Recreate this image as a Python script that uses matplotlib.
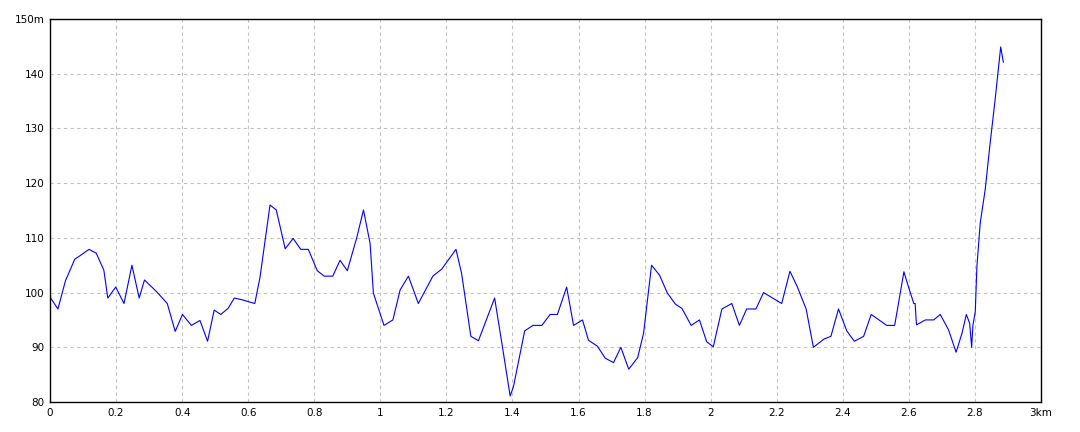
import matplotlib
matplotlib.use("Agg")
import matplotlib.pyplot as plt

# distance (km) and elevation (m)
dist_km = [0.0, 0.002, 0.024, 0.047, 0.075, 0.09, 0.118, 0.14, 0.163, 0.175,
           0.199, 0.224, 0.248, 0.27, 0.286, 0.322, 0.355, 0.379, 0.401, 0.428,
           0.454, 0.477, 0.497, 0.517, 0.539, 0.558, 0.58, 0.62, 0.636, 0.666,
           0.685, 0.712, 0.736, 0.759, 0.782, 0.809, 0.83, 0.856, 0.878, 0.9,
           0.928, 0.949, 0.969, 0.979, 1.011, 1.038, 1.06, 1.085, 1.115, 1.159,
           1.186, 1.229, 1.246, 1.274, 1.297, 1.346, 1.368, 1.393, 1.403, 1.437,
           1.462, 1.489, 1.514, 1.536, 1.564, 1.585, 1.612, 1.63, 1.657, 1.681,
           1.706, 1.728, 1.752, 1.779, 1.797, 1.821, 1.845, 1.869, 1.893, 1.913,
           1.941, 1.966, 1.988, 2.008, 2.034, 2.064, 2.087, 2.109, 2.137, 2.16,
           2.215, 2.24, 2.262, 2.289, 2.311, 2.343, 2.364, 2.387, 2.412, 2.435,
           2.463, 2.486, 2.533, 2.557, 2.585, 2.6, 2.615, 2.619, 2.623, 2.65,
           2.675, 2.695, 2.72, 2.743, 2.761, 2.774, 2.784, 2.79, 2.794, 2.801,
           2.806, 2.816, 2.831, 2.846, 2.861, 2.871, 2.878, 2.886]
elev_m = [101.0, 99.0, 97.0, 102.2, 106.1, 106.7, 107.9, 107.2, 104.1, 99.0,
          101.0, 98.0, 105.0, 99.0, 102.3, 100.2, 98.0, 92.9, 96.0, 94.0,
          94.9, 91.1, 96.8, 96.0, 97.1, 99.0, 98.7, 98.0, 102.9, 116.0,
          115.1, 108.0, 109.9, 107.9, 107.9, 104.0, 103.0, 103.0, 105.9, 104.0,
          109.9, 115.1, 109.0, 99.9, 94.0, 95.0, 100.5, 103.0, 98.0, 103.0,
          104.3, 107.9, 103.5, 92.0, 91.2, 99.0, 90.7, 81.1, 82.8, 93.0,
          94.0, 94.0, 96.0, 96.0, 101.0, 94.0, 95.0, 91.3, 90.2, 88.0,
          87.2, 90.0, 86.0, 88.1, 92.6, 105.0, 103.2, 99.9, 97.9, 97.1,
          94.0, 95.0, 91.0, 90.1, 97.0, 98.0, 94.0, 97.0, 97.0, 100.0,
          98.0, 103.9, 101.1, 97.0, 90.0, 91.5, 92.0, 97.0, 93.0, 91.1,
          92.0, 96.0, 94.0, 94.0, 103.8, 100.8, 98.0, 98.0, 94.1, 95.0,
          95.0, 96.0, 93.2, 89.1, 92.6, 96.0, 94.4, 90.0, 94.1, 96.5,
          104.8, 112.7, 118.8, 127.3, 135.2, 141.0, 144.9, 142.1]

x_ticks = [0, 0.2, 0.4, 0.6, 0.8, 1, 1.2, 1.4, 1.6, 1.8, 2, 2.2, 2.4, 2.6, 2.8, 3]
x_labels = ["0", "0.2", "0.4", "0.6", "0.8", "1", "1.2", "1.4", "1.6", "1.8",
            "2", "2.2", "2.4", "2.6", "2.8", "3km"]
y_ticks = [80, 90, 100, 110, 120, 130, 140, 150]
y_labels = ["80", "90", "100", "110", "120", "130", "140", "150m"]

fig = plt.figure(figsize=(10.8, 4.32), dpi=100)
ax = fig.add_axes([50 / 1080, 1 - 402 / 432, 991 / 1080, 383 / 432])

ax.plot(dist_km, elev_m, color="#0000ff", linewidth=0.8)

ax.set_xlim(0, 3)
ax.set_ylim(80, 150)
ax.set_xticks(x_ticks)
ax.set_xticklabels(x_labels)
ax.set_yticks(y_ticks)
ax.set_yticklabels(y_labels)
ax.tick_params(length=0, labelsize=7.5, pad=4, colors="black")

ax.grid(True, color="#c0c0c0", linestyle=(0, (3, 3)), linewidth=0.8)
ax.set_axisbelow(True)
for s in ax.spines.values():
    s.set_color("black")
    s.set_linewidth(1.0)

fig.savefig("out.png", dpi=100, facecolor="white")
